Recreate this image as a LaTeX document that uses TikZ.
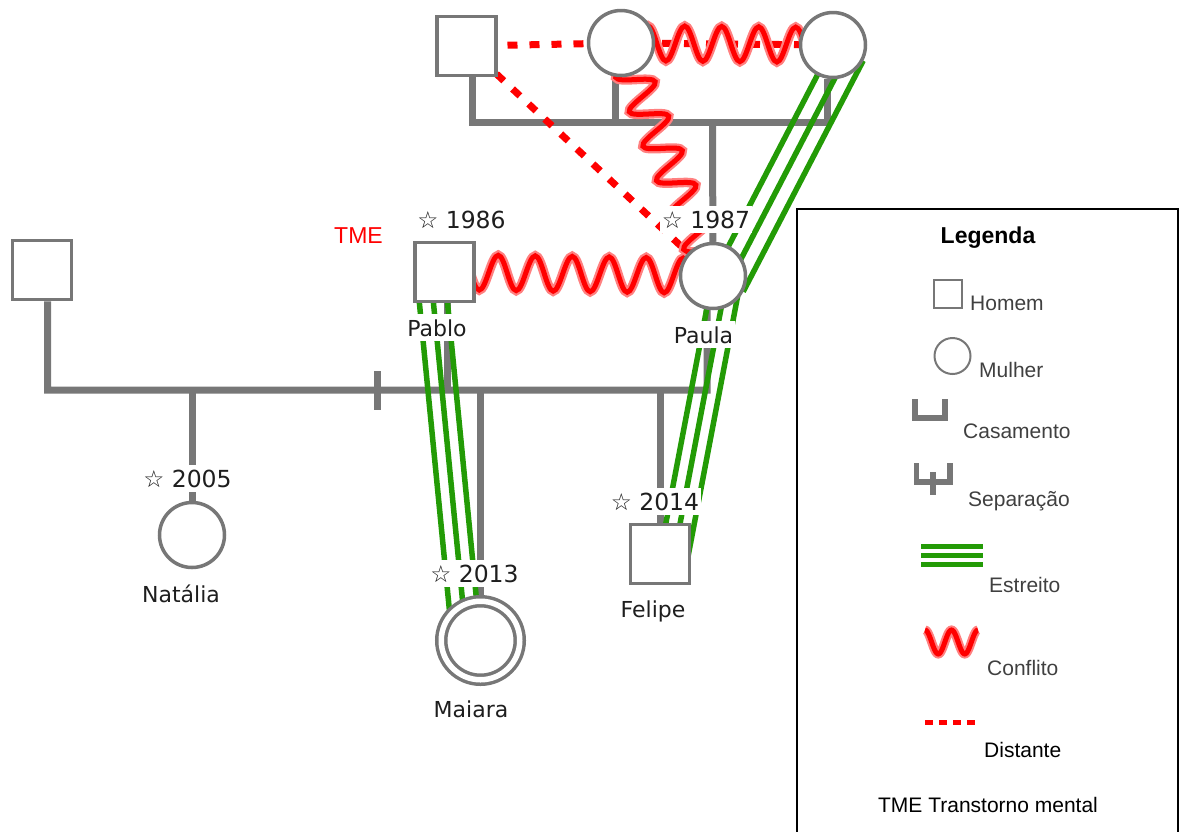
\documentclass[tikz,border=0pt]{standalone}
\usepackage{fontspec}
\setmainfont{DejaVu Sans}
\newfontfamily\legfont{Liberation Sans}
\usetikzlibrary{calc,backgrounds,decorations.pathmorphing}
\definecolor{genGray}{HTML}{777777}
\definecolor{genGreen}{HTML}{239B06}
\definecolor{genRed}{HTML}{FF0000}
\definecolor{genGlow}{HTML}{FF8080}
\definecolor{genText}{HTML}{1E1E1E}
\definecolor{legText}{HTML}{404040}
\tikzset{
  gen man/.style={draw=genGray, line width=3.5pt, fill=white, minimum size=59pt, inner sep=0pt},
  gen woman/.style={circle, draw=genGray, line width=3.5pt, fill=white, minimum size=65pt, inner sep=0pt},
  gen index/.style={gen woman, minimum size=78.5pt, double=white, double distance=5.5pt},
  gen line/.style={draw=genGray, line width=7pt},
  gen close/.style={draw=genGreen, line width=5.5pt},
  gen distant/.style={draw=genRed, line width=7pt, dash pattern=on 10pt off 12pt, dash phase=3pt},
  gen conflict/.style={decoration={snake, amplitude=17.5pt, segment length=37pt},
    preaction={draw=genGlow, line width=9.5pt, decorate}, postaction={draw=genRed, line width=5pt, decorate}},
  gen year/.style={font=\fontsize{23.5}{28}\selectfont, text=genText, fill=white, inner xsep=2pt, inner ysep=5pt, anchor=base},
  gen name/.style={font=\fontsize{22}{26}\selectfont, text=genText, fill=white, inner xsep=2pt, inner ysep=5pt, anchor=base},
  leg text/.style={font=\legfont\fontsize{21}{25}\selectfont, text=legText, anchor=base west, inner sep=0pt},
}

\begin{document}
\begin{tikzpicture}[x=1pt,y=-1pt]
\path[use as bounding box](0,0)rectangle(1181,831);
% pessoas
\node[gen man](avo)at(466.5,46){};\node[gen woman](avoA)at(621,43){};\node[gen woman](avoB)at(833,45){};
\node[gen man](ex)at(42,270){};\node[gen man](pablo)at(444.5,272){};\node[gen woman](paula)at(713,276){};
\node[gen woman](natalia)at(192,535){};\node[gen index](maiara)at(480.5,640.5){};\node[gen man](felipe)at(660,554){};
\coordinate(uniaoTopo)at(712.5,122);\coordinate(uniaoBaixo)at(707,390);\coordinate(separa)at(377.5,390);
% anos e nomes
\node[gen year](ano1986)at(461.5,228){☆ 1986};\node[gen year](ano1987)at(706,228){☆ 1987};
\node[gen year](ano2005)at(187.5,487){☆ 2005};\node[gen year](ano2013)at(474.5,582){☆ 2013};
\node[gen year](ano2014)at(655,510){☆ 2014};
\node[gen name](nomePablo)at(437,336){Pablo};\node[gen name](nomePaula)at(703.5,343){Paula};
\node[gen name](nomeNatalia)at(181,602){Natália};\node[gen name](nomeMaiara)at(471,717){Maiara};
\node[gen name](nomeFelipe)at(653,617){Felipe};
\node[font=\legfont\fontsize{23}{28}\selectfont, text=genRed, anchor=base, inner sep=0pt](tme)at(358.5,243){TME};
\begin{scope}[on background layer]
% familias
\draw[gen line](avo.-80)|-(uniaoTopo)-|(avoB.-100);\draw[gen line](avoA.-100)--(avoA.-100|-uniaoTopo);
\draw[gen line](uniaoTopo)--(paula);
\draw[gen line](ex.-80)|-(uniaoBaixo)--(paula.-100);\draw[gen line](pablo.-85)--(pablo.-85|-uniaoBaixo);
\draw[gen line](natalia)--(natalia|-uniaoBaixo);\draw[gen line](maiara)--(maiara|-uniaoBaixo);
\draw[gen line](felipe)--(felipe|-uniaoBaixo);\draw[gen line]([yshift=19pt]separa)--([yshift=-20pt]separa);
% relacoes
\draw[gen distant](avo.center)--(avoA.center);\draw[gen distant](avoA.center)--(avoB.center);
\draw[gen distant](avo.center)--(paula.center);
\foreach \o in {0,17,34}\draw[gen close]($(avoB)!\o pt!90:(paula)$)--($(paula)!\o pt!-90:(avoB)$);
\foreach \o in {0,14,28}{\draw[gen close]($(paula)!\o pt!90:(felipe)$)--($(felipe)!\o pt!-90:(paula)$);
  \draw[gen close]($(maiara)!\o pt!90:(pablo)$)--($(pablo)!\o pt!-90:(maiara)$);}
\path[gen conflict,decoration={pre length=15pt}](avoA.center)--(avoB.center);
\path[gen conflict](avoA.center)--(paula.center);\path[gen conflict](paula.center)--(pablo.center);
\end{scope}
% legenda
\draw[black,line width=1.8pt](797,209)rectangle(1178,860);
\node[font=\legfont\bfseries\fontsize{23}{28}\selectfont, anchor=base, inner sep=0pt](legTitulo)at(988,243){Legenda};
\node[draw=genGray,line width=2pt,minimum size=28pt,inner sep=0pt](legHomem)at(948,293.5){};
\node[leg text](txtHomem)at(970,310){Homem};
\node[circle,draw=genGray,line width=2pt,minimum size=36pt,inner sep=0pt](legMulher)at(952.5,356){};
\node[leg text](txtMulher)at(979,377){Mulher};
\draw[gen line,line width=5.5pt](915,399)|-(945,418)--(945,399);\node[leg text](txtCasamento)at(963,438){Casamento};
\draw[gen line,line width=5.5pt](916.5,463)|-(950,482)--(950,463);\draw[gen line,line width=5.5pt](933,472)--(933,495);
\node[leg text](txtSeparacao)at(968,506){Separação};
\foreach \y in {546.5,555,564.5}\draw[gen close,line width=5pt](921,\y)--(983,\y);
\node[leg text](txtEstreito)at(989,592){Estreito};
\draw[genGlow,line width=9pt]plot[domain=0:720,samples=61,smooth]({925+\x/720*53},{642-12*cos(\x)});
\draw[genRed,line width=5pt]plot[domain=0:720,samples=61,smooth]({925+\x/720*53},{642-12*cos(\x)});
\node[leg text](txtConflito)at(987,675){Conflito};
\draw[gen distant,line width=5pt,dash pattern=on 7.5pt off 6.5pt,dash phase=0pt](925,722.5)--(975,722.5);
\node[leg text,text=black](txtDistante)at(984,757){Distante};
\node[font=\legfont\fontsize{21}{25}\selectfont, anchor=base, inner sep=0pt](txtTME)at(988,812){TME Transtorno mental};
\end{tikzpicture}
\end{document}
